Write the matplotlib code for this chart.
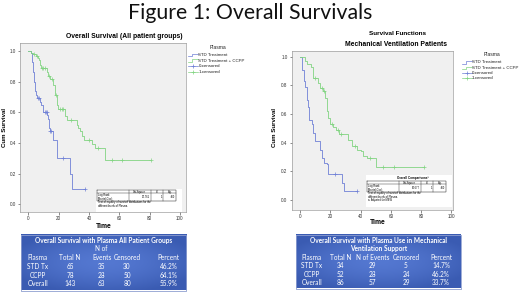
import numpy as np
import matplotlib
matplotlib.use("Agg")
import matplotlib.pyplot as plt

# ---------------- data ----------------
# Plot 1: Overall Survival (All patient groups)
p1_std_t = [1.7, 2.2, 2.6, 3.0, 3.3, 3.9, 4.3, 4.7, 5.2, 6.0, 7.5, 8.2, 9.5, 10.0, 12.5, 12.9,
            13.5, 14.0, 16.2, 16.5, 19.0, 27.5, 28.8]
p1_std_s = [0.985, 0.955, 0.925, 0.895, 0.865, 0.80, 0.77, 0.74, 0.71, 0.695, 0.665, 0.645, 0.62,
            0.605, 0.58, 0.555, 0.50, 0.475, 0.445, 0.42, 0.30, 0.20, 0.10]
p1_std_end = 37.4
p1_std_cens = [6.3, 7.0, 10.8, 11.5, 12.0, 14.5, 15.0, 23.0, 37.4]

p1_ccp_t = [2.0, 3.3, 5.0, 6.2, 7.0, 8.0, 8.5, 12.0, 12.8, 14.3, 16.5, 17.6, 18.8, 19.8, 24.0,
            25.3, 32.0, 33.0, 34.0, 35.5, 37.0, 42.0, 44.0, 50.5]
p1_ccp_s = [0.99, 0.98, 0.97, 0.955, 0.94, 0.91, 0.89, 0.86, 0.835, 0.82, 0.78, 0.71, 0.645, 0.62,
            0.575, 0.55, 0.52, 0.50, 0.475, 0.445, 0.42, 0.395, 0.37, 0.29]
p1_ccp_end = 81.0
p1_ccp_cens = [4.0, 5.5, 9.0, 10.0, 11.0, 13.5, 15.5, 18.0, 21.0, 22.0, 23.0, 28.0, 40.0, 46.0,
               55.0, 62.0, 81.0]

# Plot 2: Mechanical Ventilation Patients
p2_std_t = [1.5, 2.5, 3.5, 4.5, 5.2, 5.8, 8.2, 8.8, 10.0, 13.0, 14.3, 15.8, 17.5, 18.7, 27.5, 29.0]
p2_std_s = [0.91, 0.83, 0.79, 0.70, 0.65, 0.56, 0.53, 0.47, 0.41, 0.35, 0.29, 0.26, 0.25, 0.18,
            0.12, 0.06]
p2_std_end = 37.4
p2_std_cens = [23.0, 37.4]

p2_ccp_t = [3.3, 4.5, 7.5, 8.8, 12.0, 13.5, 15.3, 16.7, 17.5, 18.7, 20.0, 21.5, 24.0, 25.5, 32.0,
            34.5, 37.5, 40.0, 41.8, 44.0, 50.0]
p2_ccp_s = [0.97, 0.95, 0.93, 0.85, 0.82, 0.78, 0.76, 0.71, 0.62, 0.57, 0.53, 0.51, 0.49, 0.46,
            0.42, 0.38, 0.35, 0.34, 0.31, 0.29, 0.23]
p2_ccp_end = 81.8
p2_ccp_cens = [10.0, 14.5, 16.0, 21.0, 25.0, 27.0, 36.0, 46.0, 55.0, 62.0, 81.8]

x_ticks = [0, 20, 40, 60, 80, 100]
y_ticks = [0.0, 0.2, 0.4, 0.6, 0.8, 1.0]
legend_labels = ["STD Treatment", "STD Treatment + CCPP", "0-censored", "1-censored"]

logrank1 = ["20.761", "1", ".000"]
logrank2 = ["26.677", "1", ".000"]

tab1_title = ["Overall Survival with Plasma All Patient Groups"]
tab1_header = ["Plasma", "Total N", "N of\nEvents", "Censored", "Percent"]
tab1_rows = [["STD Tx", "65", "35", "30", "46.2%"],
             ["CCPP", "78", "28", "50", "64.1%"],
             ["Overall", "143", "63", "80", "55.9%"]]
tab2_title = ["Overall Survival with Plasma Use in Mechanical", "Ventilation Support"]
tab2_header = ["Plasma", "Total N", "N of Events", "Censored", "Percent"]
tab2_rows = [["STD Tx", "34", "29", "5", "14.7%"],
             ["CCPP", "52", "28", "24", "46.2%"],
             ["Overall", "86", "57", "29", "33.7%"]]

# ---------------- styling ----------------
W, H = 520, 292
BLUE = "#6f80d6"
GREEN = "#82d482"
CHART_FONT = ["Liberation Sans", "DejaVu Sans"]
CAL_FONT = ["Lato", "DejaVu Sans"]

fig = plt.figure(figsize=(W / 100, H / 100), dpi=100)
fig.patch.set_facecolor("white")


def rect(l, t, r, b):
    return [l / W, (H - b) / H, (r - l) / W, (b - t) / H]


def km(ax, times, surv, end, cens, color):
    x = np.array([0.0] + list(times) + [end])
    y = np.array([1.0] + list(surv) + [surv[-1]])
    ax.plot(x, y, drawstyle="steps-post", color=color, lw=0.6, zorder=3)
    c = np.array(cens)
    idx = np.searchsorted(x, c, side="right") - 1
    ax.plot(c, y[idx], ls="none", marker="+", ms=2.6, mew=0.5, color=color, zorder=4)


def style_ax(ax, ylim):
    ax.set_facecolor("#f0f0f0")
    ax.set_xlim(-5.5, 104)
    ax.set_ylim(*ylim)
    ax.set_xticks(x_ticks)
    ax.set_yticks(y_ticks)
    ax.set_yticklabels([f"{v:.1f}" for v in y_ticks])
    ax.tick_params(labelsize=3.3, length=1.8, width=0.4, pad=1.2, colors="#333333")
    for sp in ax.spines.values():
        sp.set_linewidth(0.4)
        sp.set_color("#888888")
    for lab in ax.get_xticklabels() + ax.get_yticklabels():
        lab.set_family(CHART_FONT)


ax1 = fig.add_axes(rect(20, 42.7, 186, 211.7))
km(ax1, p1_std_t, p1_std_s, p1_std_end, p1_std_cens, BLUE)
km(ax1, p1_ccp_t, p1_ccp_s, p1_ccp_end, p1_ccp_cens, GREEN)
style_ax(ax1, (-0.048, 1.054))

ax2 = fig.add_axes(rect(291.7, 50.7, 452.7, 210))
km(ax2, p2_std_t, p2_std_s, p2_std_end, p2_std_cens, BLUE)
km(ax2, p2_ccp_t, p2_ccp_s, p2_ccp_end, p2_ccp_cens, GREEN)
style_ax(ax2, (-0.07, 1.042))
ax2.set_xlim(-5.5, 100.8)

# overlay in pixel coordinates
ov = fig.add_axes([0, 0, 1, 1], zorder=10)
ov.set_xlim(0, W)
ov.set_ylim(H, 0)
ov.axis("off")

# figure title
ov.text(250, 13, "Figure 1: Overall Survivals", fontsize=15.3, family=CAL_FONT,
        ha="center", va="center", color="#111111")

# chart titles and axis labels
ov.text(124, 36, "Overall Survival (All patient groups)", fontsize=4.85, weight="bold",
        family=CHART_FONT, ha="center", va="center")
ov.text(398, 33.5, "Survival Functions", fontsize=4.6, weight="bold",
        family=CHART_FONT, ha="center", va="center")
ov.text(396, 44, "Mechanical Ventilation Patients", fontsize=4.9, weight="bold",
        family=CHART_FONT, ha="center", va="center")
ov.text(5, 127, "Cum Survival", fontsize=4.4, weight="bold", rotation=90,
        family=CHART_FONT, ha="center", va="center")
ov.text(275, 127, "Cum Survival", fontsize=4.4, weight="bold", rotation=90,
        family=CHART_FONT, ha="center", va="center")
ov.text(104, 227, "Time", fontsize=4.9, weight="bold", family=CHART_FONT,
        ha="center", va="center")
ov.text(378, 222.5, "Time", fontsize=4.9, weight="bold", family=CHART_FONT,
        ha="center", va="center")


def legend(x0, ytitle, ys):
    ov.text(x0 + 30, ytitle, "Plasma", fontsize=3.6, family=CHART_FONT,
            ha="center", va="center", color="#222222")
    cols = [BLUE, GREEN, BLUE, GREEN]
    for i, (yy, lab, c) in enumerate(zip(ys, legend_labels, cols)):
        if i < 2:
            ov.plot([x0, x0 + 4, x0 + 4, x0 + 10], [yy + 1.2, yy + 1.2, yy - 1.2, yy - 1.2],
                    color=c, lw=0.5)
        else:
            ov.plot([x0, x0 + 10], [yy, yy], color=c, lw=0.5)
            ov.plot([x0 + 5], [yy], marker="+", ms=2.6, mew=0.5, color=c)
        ov.text(x0 + 10.5, yy, lab, fontsize=3.2, family=CHART_FONT, ha="left",
                va="center", color="#222222")


legend(188, 47.5, [55, 60.5, 66, 71.7])
legend(461.5, 54, [62.3, 67.7, 72.8, 78.3])


def logrank(l, t, r, vals, title=None, note=None):
    top = t
    if title:
        ov.text((l + r) / 2 + 6, t + 2.5, title, fontsize=2.2, weight="bold",
                family=CHART_FONT, ha="center", va="center")
        top = t + 5.5
    cx = [l, l + 0.40 * (r - l), l + 0.68 * (r - l), l + 0.84 * (r - l), r]
    h1, h2 = 3.4, 7.2
    ov.add_patch(plt.Rectangle((l - 1.5, t - 1), r - l + 7, (top - t) + h1 + h2 + 12 + (4 if note else 0),
                               facecolor="white", edgecolor="none", zorder=1))
    ov.plot([l, r, r, l, l], [top, top, top + h1 + h2, top + h1 + h2, top], color="#222222", lw=0.35, zorder=2)
    ov.plot([l, r], [top + h1, top + h1], color="#222222", lw=0.3, zorder=2)
    for xx in cx[1:4]:
        ov.plot([xx, xx], [top, top + h1 + h2], color="#222222", lw=0.3, zorder=2)
    for i, hd in enumerate(["Chi-Square", "df", "Sig."]):
        ov.text((cx[i + 1] + cx[i + 2]) / 2, top + h1 / 2, hd, fontsize=1.9,
                family=CHART_FONT, ha="center", va="center", zorder=3)
    ov.text(l + 1, top + h1 + h2 / 2, "Log Rank\n(Mantel-Cox)", fontsize=1.9,
            family=CHART_FONT, ha="left", va="center", linespacing=1.0, zorder=3)
    for i, v in enumerate(vals):
        ov.text(cx[i + 2] - 1, top + h1 + h2 / 2, v, fontsize=1.9, family=CHART_FONT,
                ha="right", va="center", zorder=3)
    ov.text(l + 0.5, top + h1 + h2 + 3.3,
            "Test of equality of survival distributions for the\ndifferent levels of Plasma.",
            fontsize=1.9, family=CHART_FONT, ha="left", va="center", linespacing=1.0, zorder=3)
    if note:
        ov.text(l + 1, top + h1 + h2 + 8.5, note, fontsize=1.9, family=CHART_FONT,
                ha="left", va="center", zorder=3)


logrank(97, 190, 176, logrank1)
logrank(367, 175.5, 446, logrank2, title="Overall Comparisons\u00aa", note="a. Adjusted for MEW")

FS_T = 4.7


def summary_table(l, t, r, b, title_lines, header, rows, colx, ytitle, yhead, yrows, n_of=None):
    ny, nx = 60, 120
    u = np.linspace(-1, 1, nx)[None, :]
    v = np.linspace(-1, 1, ny)[:, None]
    d = np.clip(np.sqrt((u * 0.85) ** 2 + (v * 0.9) ** 2), 0, 1)
    c0 = np.array([0.33, 0.47, 0.82])
    c1 = np.array([0.23, 0.36, 0.70])
    img = c0[None, None, :] * (1 - d[..., None] ** 1.6) + c1[None, None, :] * (d[..., None] ** 1.6)
    ov.imshow(img, extent=(l, r, b, t), aspect="auto", zorder=1, interpolation="bilinear")
    ov.plot([l, r, r, l, l], [t, t, b, b, t], color="#8e9fd0", lw=0.6, zorder=2)
    for yy, line in zip(ytitle, title_lines):
        ov.text((l + r) / 2, yy, line, fontsize=FS_T, weight="bold", family=CAL_FONT,
                color="white", ha="center", va="center", zorder=3)
    for xx, hd in zip(colx, header):
        if "\n" in hd:
            a, bb = hd.split("\n")
            ov.text(xx, n_of, a, fontsize=FS_T, family=CAL_FONT, color="white",
                    ha="center", va="center", zorder=3)
            hd = bb
        ov.text(xx, yhead, hd, fontsize=FS_T, family=CAL_FONT, color="white",
                ha="center", va="center", zorder=3)
    for yy, row in zip(yrows, rows):
        for xx, cell in zip(colx, row):
            ov.text(xx, yy, cell, fontsize=FS_T, family=CAL_FONT, color="white",
                    ha="center", va="center", zorder=3)


summary_table(20.7, 235, 186, 290.5, tab1_title, tab1_header, tab1_rows,
              [37.7, 70, 101.7, 127, 168.5], [240.2], 257.3, [266.5, 275.2, 283.8], n_of=248.5)
summary_table(296, 235, 461, 288.5, tab2_title, tab2_header, tab2_rows,
              [311.7, 340.5, 372.5, 406, 441], [240.2, 248.5], 257.3, [265.8, 274.3, 282.5])

fig.savefig("out.png", dpi=100)
